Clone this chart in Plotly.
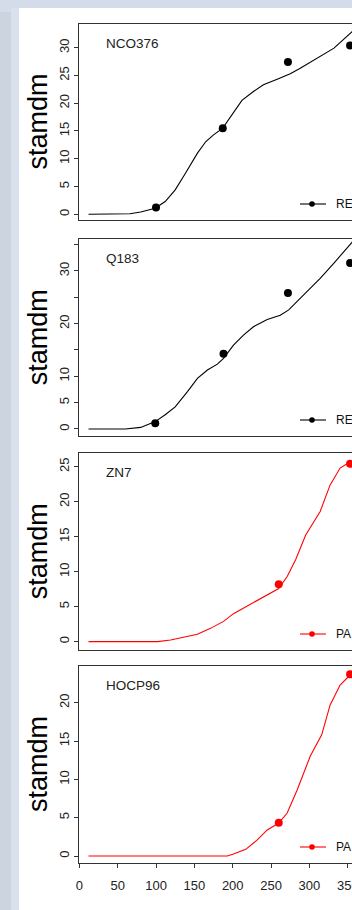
import plotly.graph_objects as go

# ---------------- data ----------------
panel_names = ["NCO376", "Q183", "ZN7", "HOCP96"]
legend_labels = ["RE", "RE", "PA", "PA"]
series_colors = ["#000000", "#000000", "#ff0000", "#ff0000"]

nco_day = [12, 40, 66, 80, 99, 112, 125, 138, 154, 165, 175, 187, 199, 212, 227, 240, 258, 275, 288, 310, 332, 356, 370]
nco_sim = [0, 0, 0.1, 0.4, 1.1, 2.3, 4.4, 7.3, 11.0, 13.1, 14.3, 15.5, 17.9, 20.5, 22.1, 23.3, 24.3, 25.3, 26.3, 28.1, 29.9, 32.9, 34.5]
nco_obs_day = [100, 187, 272, 353]
nco_obs = [1.2, 15.5, 27.4, 30.4]

q183_day = [12, 60, 80, 99, 112, 125, 141, 154, 167, 180, 188, 201, 214, 227, 245, 262, 273, 292, 314, 332, 353, 365]
q183_sim = [0, 0, 0.3, 1.4, 2.7, 4.2, 7.1, 9.6, 11.2, 12.3, 13.4, 15.9, 17.8, 19.4, 20.8, 21.6, 22.6, 25.4, 28.6, 31.5, 35.0, 37.0]
q183_obs_day = [99, 188, 272, 353]
q183_obs = [1.1, 14.3, 25.8, 31.5]

zn7_day = [12, 60, 102, 119, 136, 154, 171, 188, 201, 214, 227, 240, 260, 271, 282, 295, 314, 327, 340, 353, 365]
zn7_sim = [0, 0, 0, 0.24, 0.6, 1.05, 1.9, 2.9, 4.0, 4.8, 5.5, 6.4, 7.6, 9.3, 11.7, 15.2, 18.6, 22.4, 24.8, 25.7, 26.0]
zn7_obs_day = [260, 353]
zn7_obs = [8.2, 25.4]

hocp_day = [12, 100, 193, 201, 217, 232, 245, 260, 271, 284, 301, 316, 327, 340, 353, 365]
hocp_sim = [0, 0, 0, 0.26, 0.87, 2.1, 3.4, 4.3, 5.6, 8.6, 13.0, 15.8, 19.7, 22.3, 23.6, 24.0]
hocp_obs_day = [260, 353]
hocp_obs = [4.35, 23.7]

x_tick_vals = [0, 50, 100, 150, 200, 250, 300, 350]
x_tick_text = ["0", "50", "100", "150", "200", "250", "300", "350"]

nco_ytick_vals = [0, 5, 10, 15, 20, 25, 30]
nco_ytick_text = ["0", "5", "10", "15", "20", "25", "30"]
q183_ytick_vals = [0, 5, 10, 15, 20, 25, 30, 35]
q183_ytick_text = ["0", "5", "10", "", "20", "", "30", ""]
zn7_ytick_vals = [0, 5, 10, 15, 20, 25]
zn7_ytick_text = ["0", "5", "10", "15", "20", "25"]
hocp_ytick_vals = [0, 5, 10, 15, 20]
hocp_ytick_text = ["0", "5", "10", "15", "20"]

y_ranges = [[-1.03, 34.25], [-1.33, 36.0], [-1.19, 26.91], [-0.91, 24.78]]
x_range = [-0.4, 355.5]

sim_days = [nco_day, q183_day, zn7_day, hocp_day]
sim_vals = [nco_sim, q183_sim, zn7_sim, hocp_sim]
obs_days = [nco_obs_day, q183_obs_day, zn7_obs_day, hocp_obs_day]
obs_vals = [nco_obs, q183_obs, zn7_obs, hocp_obs]
ytick_vals = [nco_ytick_vals, q183_ytick_vals, zn7_ytick_vals, hocp_ytick_vals]
ytick_text = [nco_ytick_text, q183_ytick_text, zn7_ytick_text, hocp_ytick_text]

# ---------------- layout geometry ----------------
W, H = 352, 910
ML, MT, MB, MR = 79, 24, 47, 0
PW = W - ML - MR
PH = H - MT - MB

def px_x(px):
    return (px - ML) / PW

def px_y(py):
    return (H - MB - py) / PH

tops = [24, 239.3, 453.3, 666]
bots = [220, 436, 650, 863]

FONT = "Liberation Sans, Arial, sans-serif"
AXC = "#333333"

fig = go.Figure()
layout = dict(
    template="none",
    width=W, height=H,
    margin=dict(l=ML, r=MR, t=MT, b=MB, pad=0, autoexpand=False),
    paper_bgcolor="#d3dce8",
    plot_bgcolor="#ffffff",
    showlegend=False,
    font=dict(family=FONT, color="#222222", size=13),
)

shapes = [
    # white page area
    dict(type="rect", xref="paper", yref="paper", layer="below",
         x0=px_x(19), x1=px_x(W + 5), y0=px_y(8), y1=px_y(H + 5),
         fillcolor="#ffffff", line=dict(width=0)),
    # left strips
    dict(type="rect", xref="paper", yref="paper", layer="below",
         x0=px_x(-5), x1=px_x(11), y0=px_y(12), y1=px_y(H + 5),
         fillcolor="#cbd4df", line=dict(width=0)),
    dict(type="rect", xref="paper", yref="paper", layer="below",
         x0=px_x(11), x1=px_x(19), y0=px_y(8), y1=px_y(H + 5),
         fillcolor="#d8e1ec", line=dict(width=0)),
]
annotations = []

for i in range(4):
    xs = "" if i == 0 else str(i + 1)
    last = (i == 3)
    col = series_colors[i]
    fig.add_trace(go.Scatter(x=sim_days[i], y=sim_vals[i], mode="lines",
                             line=dict(color=col, width=1.1),
                             xaxis="x" + xs, yaxis="y" + xs, hoverinfo="skip"))
    fig.add_trace(go.Scatter(x=obs_days[i], y=obs_vals[i], mode="markers",
                             marker=dict(color=col, size=8, line=dict(width=0)),
                             xaxis="x" + xs, yaxis="y" + xs, hoverinfo="skip"))
    layout["xaxis" + xs] = dict(
        domain=[0, 1], range=x_range, anchor="y" + xs, automargin=False,
        showline=True, mirror=True, linecolor=AXC, linewidth=1.2,
        showgrid=False, zeroline=False,
        ticks="outside" if last else "", ticklen=4, tickcolor=AXC,
        tickvals=x_tick_vals, ticktext=x_tick_text,
        showticklabels=last, tickfont=dict(size=13, color="#222222"),
        ticklabelstandoff=6, ticklabeloverflow="allow",
    )
    layout["yaxis" + xs] = dict(
        domain=[px_y(bots[i]), px_y(tops[i])], range=y_ranges[i], anchor="x" + xs,
        automargin=False,
        showline=True, mirror=False, linecolor=AXC, linewidth=1.2,
        showgrid=False, zeroline=False,
        ticks="outside", ticklen=4, tickcolor=AXC,
        tickvals=ytick_vals[i], ticktext=ytick_text[i],
        tickangle=-90, tickfont=dict(size=13, color="#222222"),
    )
    # panel name
    annotations.append(dict(text=panel_names[i], xref="paper", yref="y" + xs + " domain",
                            x=px_x(104), y=1 - 19.5 / (bots[i] - tops[i]),
                            xanchor="left", yanchor="middle", showarrow=False,
                            font=dict(size=13.5, color="#222222", family=FONT)))
    # y title
    annotations.append(dict(text="stamdm", xref="paper", yref="y" + xs + " domain",
                            x=px_x(37.5), y=0.5, textangle=-90,
                            xanchor="center", yanchor="middle", showarrow=False,
                            font=dict(size=27, color="#000000", family=FONT)))
    # legend sample
    ly = 16 / (bots[i] - tops[i])
    shapes.append(dict(type="line", xref="paper", yref="y" + xs + " domain",
                       x0=px_x(300), x1=px_x(326), y0=ly, y1=ly,
                       line=dict(color=col, width=1.1)))
    shapes.append(dict(type="circle", xref="paper", yref="y" + xs + " domain",
                       xsizemode="pixel", ysizemode="pixel",
                       xanchor=px_x(312), yanchor=ly,
                       x0=-2.8, x1=2.8, y0=-2.8, y1=2.8,
                       fillcolor=col, line=dict(color=col, width=0)))
    annotations.append(dict(text=legend_labels[i], xref="paper", yref="y" + xs + " domain",
                            x=px_x(334), y=ly, xanchor="left", yanchor="middle",
                            showarrow=False,
                            font=dict(size=12, color="#111111", family=FONT)))

layout["shapes"] = shapes
layout["annotations"] = annotations
fig.update_layout(**layout)
fig.write_html("out.html",
               config={"displayModeBar": False},
               post_script="document.body.style.margin='0';document.body.style.overflow='hidden';")
